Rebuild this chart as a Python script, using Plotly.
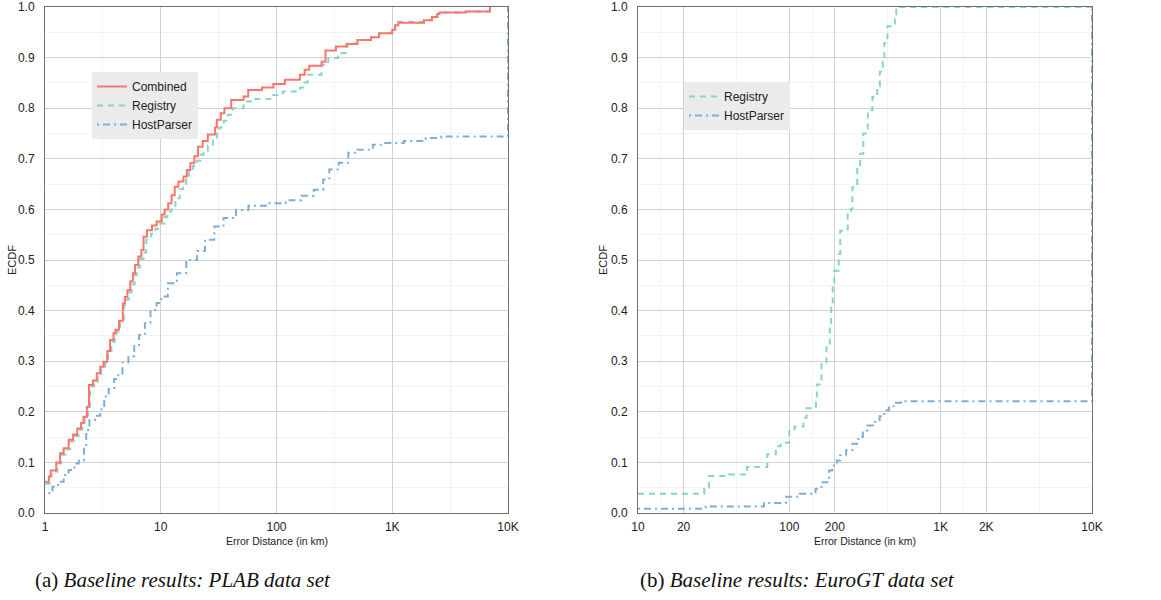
import plotly.graph_objects as go

# ---------------- data ----------------
# Panel (a): PLAB data set -- ECDF step points (x = error distance km, y = ECDF)
plab_combined_x = [1.0, 1.08, 1.12, 1.25, 1.35, 1.45, 1.6, 1.75, 1.9, 2.05,
                   2.15, 2.3, 2.4, 2.6, 2.8, 3.0, 3.2, 3.45, 3.65, 3.9,
                   4.05, 4.35, 4.7, 4.9, 5.15, 5.45, 5.75, 6.0, 6.4, 6.8,
                   7.1, 7.6, 8.4, 9.2, 10.2, 10.8, 11.6, 12.4, 13.2, 14.2,
                   15.7, 16.8, 18.0, 19.5, 21.0, 23.0, 25.5, 29.4, 30.5, 33.0,
                   35.5, 40.6, 52.0, 57.0, 75.0, 94.0, 118.0, 159.0, 175.0, 192.0,
                   245.0, 265.0, 326.0, 410.0, 500.0, 655.0, 770.0, 1000.0, 1060.0, 1130.0,
                   1880.0, 2200.0, 2450.0, 2550.0, 4300.0, 7000.0]
plab_combined_y = [0.062, 0.072, 0.084, 0.100, 0.118, 0.128, 0.145, 0.155, 0.167, 0.178,
                   0.190, 0.210, 0.253, 0.262, 0.276, 0.289, 0.299, 0.320, 0.342, 0.355,
                   0.362, 0.380, 0.414, 0.427, 0.440, 0.458, 0.474, 0.490, 0.507, 0.520,
                   0.546, 0.559, 0.568, 0.576, 0.590, 0.600, 0.612, 0.628, 0.645, 0.655,
                   0.665, 0.678, 0.691, 0.705, 0.724, 0.735, 0.748, 0.762, 0.777, 0.790,
                   0.800, 0.816, 0.823, 0.836, 0.841, 0.848, 0.856, 0.866, 0.876, 0.884,
                   0.892, 0.914, 0.922, 0.927, 0.935, 0.940, 0.948, 0.955, 0.964, 0.969,
                   0.974, 0.980, 0.986, 0.989, 0.991, 1.000]

plab_registry_x = [1.0, 1.1, 1.14, 1.28, 1.38, 1.5, 1.65, 1.8, 1.95, 2.1,
                   2.2, 2.35, 2.45, 2.65, 2.85, 3.05, 3.3, 3.5, 3.75, 4.0,
                   4.15, 4.45, 4.8, 5.05, 5.3, 5.6, 5.95, 6.2, 6.6, 7.1,
                   7.5, 8.2, 9.0, 9.8, 10.8, 11.4, 12.4, 13.4, 14.6, 15.6,
                   16.6, 17.5, 19.0, 20.6, 22.0, 23.4, 25.5, 28.2, 30.5, 32.0,
                   35.0, 38.0, 42.0, 52.0, 62.7, 94.0, 113.0, 160.0, 172.0, 186.0,
                   245.0, 280.0, 340.0, 400.0, 500.0, 655.0, 770.0, 1000.0, 1060.0, 1120.0,
                   1880.0, 2200.0, 2450.0, 2550.0, 4300.0, 7000.0]
plab_registry_y = [0.058, 0.072, 0.082, 0.098, 0.115, 0.126, 0.142, 0.152, 0.165, 0.175,
                   0.187, 0.205, 0.250, 0.259, 0.272, 0.285, 0.296, 0.316, 0.338, 0.350,
                   0.358, 0.376, 0.410, 0.422, 0.436, 0.452, 0.470, 0.485, 0.502, 0.515,
                   0.540, 0.552, 0.562, 0.572, 0.585, 0.596, 0.607, 0.622, 0.640, 0.650,
                   0.660, 0.676, 0.686, 0.696, 0.708, 0.716, 0.726, 0.736, 0.750, 0.762,
                   0.775, 0.787, 0.800, 0.813, 0.818, 0.826, 0.833, 0.841, 0.851, 0.866,
                   0.886, 0.899, 0.909, 0.928, 0.935, 0.940, 0.948, 0.955, 0.964, 0.971,
                   0.974, 0.980, 0.986, 0.989, 0.991, 1.000]

plab_hostparser_x = [1.07, 1.16, 1.3, 1.45, 1.6, 1.8, 1.96, 2.17, 2.27, 2.42,
                     2.7, 3.0, 3.25, 3.55, 3.95, 4.3, 4.67, 5.25, 5.9, 6.5,
                     7.3, 8.15, 9.2, 10.1, 11.5, 13.8, 16.6, 20.6, 24.1, 29.0,
                     34.9, 44.7, 57.3, 83.0, 120.0, 164.0, 210.0, 253.0, 286.0, 345.0,
                     417.0, 500.0, 680.0, 870.0, 1260.0, 1950.0, 2650.0, 10000.0, 10000.0]
plab_hostparser_y = [0.039, 0.052, 0.062, 0.075, 0.085, 0.098, 0.104, 0.131, 0.164, 0.184,
                     0.192, 0.205, 0.230, 0.245, 0.265, 0.275, 0.298, 0.310, 0.330, 0.352,
                     0.375, 0.401, 0.415, 0.428, 0.454, 0.474, 0.500, 0.518, 0.540, 0.566,
                     0.583, 0.599, 0.607, 0.612, 0.618, 0.627, 0.639, 0.659, 0.679, 0.692,
                     0.712, 0.718, 0.728, 0.731, 0.735, 0.741, 0.744, 0.744, 1.000]

# Panel (b): EuroGT data set
euro_registry_x = [10.0, 27.4, 29.5, 40.0, 52.5, 71.5, 81.5, 87.6, 100.0, 108.0,
                   124.0, 130.0, 150.0, 152.0, 163.0, 176.0, 185.0, 189.0, 193.5, 198.0,
                   212.0, 217.0, 243.0, 255.0, 261.0, 281.0, 294.0, 308.0, 330.0, 354.0,
                   381.0, 396.0, 415.0, 424.0, 445.0, 498.0, 509.0, 534.0, 10000.0]
euro_registry_y = [0.038, 0.050, 0.073, 0.076, 0.091, 0.116, 0.132, 0.139, 0.162, 0.171,
                   0.188, 0.207, 0.221, 0.254, 0.294, 0.327, 0.367, 0.406, 0.446, 0.479,
                   0.512, 0.558, 0.592, 0.601, 0.644, 0.684, 0.710, 0.750, 0.796, 0.822,
                   0.843, 0.872, 0.892, 0.929, 0.962, 0.985, 0.995, 1.000, 1.000]

euro_hostparser_x = [10.0, 28.0, 68.0, 95.0, 117.0, 149.0, 163.0, 183.0, 192.0, 206.0,
                     217.0, 237.0, 261.0, 286.0, 306.0, 328.0, 367.0, 395.0, 424.0, 455.0,
                     498.0, 546.0, 10000.0, 10000.0]
euro_hostparser_y = [0.0086, 0.013, 0.020, 0.032, 0.038, 0.048, 0.061, 0.084, 0.094, 0.104,
                     0.114, 0.124, 0.137, 0.150, 0.163, 0.173, 0.180, 0.191, 0.203, 0.211,
                     0.218, 0.221, 0.221, 1.000]

left_tickvals = [1, 10, 100, 1000, 10000]
left_ticktext = ["1", "10", "100", "1K", "10K"]
left_minor = [3.162, 31.62, 316.2, 3162]
right_tickvals = [10, 20, 100, 200, 1000, 2000, 10000]
right_ticktext = ["10", "20", "100", "200", "1K", "2K", "10K"]
right_minor = [14.14, 44.72, 141.4, 447.2, 1414, 4472]
y_tickvals = [i / 10 for i in range(11)]
y_minor = [0.05 + i / 10 for i in range(10)]

series_names = ["Combined", "Registry", "HostParser"]
captions = ["(a) <i>Baseline results: PLAB data set</i>",
            "(b) <i>Baseline results: EuroGT data set</i>"]

# ---------------- styling ----------------
W, H = 1161, 600
LX0, LX1 = 45, 508
RX0, RX1 = 638, 1092
YT, YB = 7, 513

C_COMB = "#F8766D"
C_REG = "#86D6C2"
C_HP = "#7DAFD6"
DASH_REG = "6px,5px"
DASH_HP = "2px,4px,7px,4px"
FONT = "Liberation Sans, Arial, sans-serif"

fig = go.Figure()

# Registry and HostParser first so Combined is drawn on top
fig.add_trace(go.Scatter(x=plab_registry_x, y=plab_registry_y, mode="lines", line_shape="hv",
                         name=series_names[1], line=dict(color=C_REG, width=2, dash=DASH_REG),
                         xaxis="x", yaxis="y", legend="legend", legendrank=2))
fig.add_trace(go.Scatter(x=plab_hostparser_x, y=plab_hostparser_y, mode="lines", line_shape="hv",
                         name=series_names[2], line=dict(color=C_HP, width=2, dash=DASH_HP),
                         xaxis="x", yaxis="y", legend="legend", legendrank=3))
fig.add_trace(go.Scatter(x=plab_combined_x, y=plab_combined_y, mode="lines", line_shape="hv",
                         name=series_names[0], line=dict(color=C_COMB, width=2),
                         xaxis="x", yaxis="y", legend="legend", legendrank=1))

fig.add_trace(go.Scatter(x=euro_registry_x, y=euro_registry_y, mode="lines", line_shape="hv",
                         name=series_names[1], line=dict(color=C_REG, width=2, dash=DASH_REG),
                         xaxis="x2", yaxis="y2", legend="legend2"))
fig.add_trace(go.Scatter(x=euro_hostparser_x, y=euro_hostparser_y, mode="lines", line_shape="hv",
                         name=series_names[2], line=dict(color=C_HP, width=2, dash=DASH_HP),
                         xaxis="x2", yaxis="y2", legend="legend2"))


def xaxis(x0, x1, rng, tv, tt, minor, anchor):
    return dict(domain=[x0 / W, x1 / W], type="log", range=rng, tickmode="array",
                tickvals=tv, ticktext=tt, showgrid=True, gridcolor="#D2D2D2", gridwidth=1,
                minor=dict(tickmode="array", tickvals=minor, showgrid=True,
                           gridcolor="#F3F3F3", gridwidth=1, ticks=""),
                showline=True, mirror=True, linecolor="#707070", linewidth=1,
                ticks="", zeroline=False, layer="below traces", anchor=anchor,
                tickfont=dict(family=FONT, size=12, color="#222222"), ticklabelstandoff=3)


def yaxis(anchor):
    return dict(domain=[1 - YB / H, 1 - YT / H], range=[0, 1], tickmode="array",
                tickvals=y_tickvals, tickformat=".1f", showgrid=True, gridcolor="#D2D2D2",
                minor=dict(tickmode="array", tickvals=y_minor, showgrid=True,
                           gridcolor="#F3F3F3", gridwidth=1, ticks=""),
                showline=True, mirror=True, linecolor="#707070", linewidth=1,
                ticks="", zeroline=False, layer="below traces", anchor=anchor,
                tickfont=dict(family=FONT, size=12, color="#222222"), ticklabelstandoff=7)


legend_style = dict(bgcolor="#EBEBEB", borderwidth=0, font=dict(family=FONT, size=12, color="#222222"),
                    xanchor="left", yanchor="top", itemwidth=30, tracegroupgap=0)

fig.update_layout(
    width=W, height=H, margin=dict(l=0, r=0, t=0, b=0, autoexpand=False),
    paper_bgcolor="white", plot_bgcolor="white",
    xaxis=xaxis(LX0, LX1, [0, 4], left_tickvals, left_ticktext, left_minor, "y"),
    yaxis=yaxis("x"),
    xaxis2=xaxis(RX0, RX1, [1, 4], right_tickvals, right_ticktext, right_minor, "y2"),
    yaxis2=yaxis("x2"),
    legend=dict(x=92 / W, y=1 - 72 / H, traceorder="normal", **legend_style),
    legend2=dict(x=684 / W, y=1 - 82 / H, **legend_style),
    showlegend=True,
)

ann = []
for cx in [(LX0 + LX1) / 2, (RX0 + RX1) / 2]:
    ann.append(dict(x=cx / W, y=1 - 541 / H, xref="paper", yref="paper", text="Error Distance (in km)",
                    showarrow=False, font=dict(family=FONT, size=10.5, color="#222222"),
                    xanchor="center", yanchor="middle"))
for lx in [12, 603]:
    ann.append(dict(x=lx / W, y=1 - 260 / H, xref="paper", yref="paper", text="ECDF", textangle=-90,
                    showarrow=False, font=dict(family=FONT, size=11, color="#222222"),
                    xanchor="center", yanchor="middle"))
for cx, txt in zip([183, 797], captions):
    ann.append(dict(x=cx / W, y=1 - 580 / H, xref="paper", yref="paper", text=txt,
                    showarrow=False, font=dict(family="Liberation Serif, serif", size=21, color="#111111"),
                    xanchor="center", yanchor="middle"))
fig.update_layout(annotations=ann)

fig.write_html("out.html")
